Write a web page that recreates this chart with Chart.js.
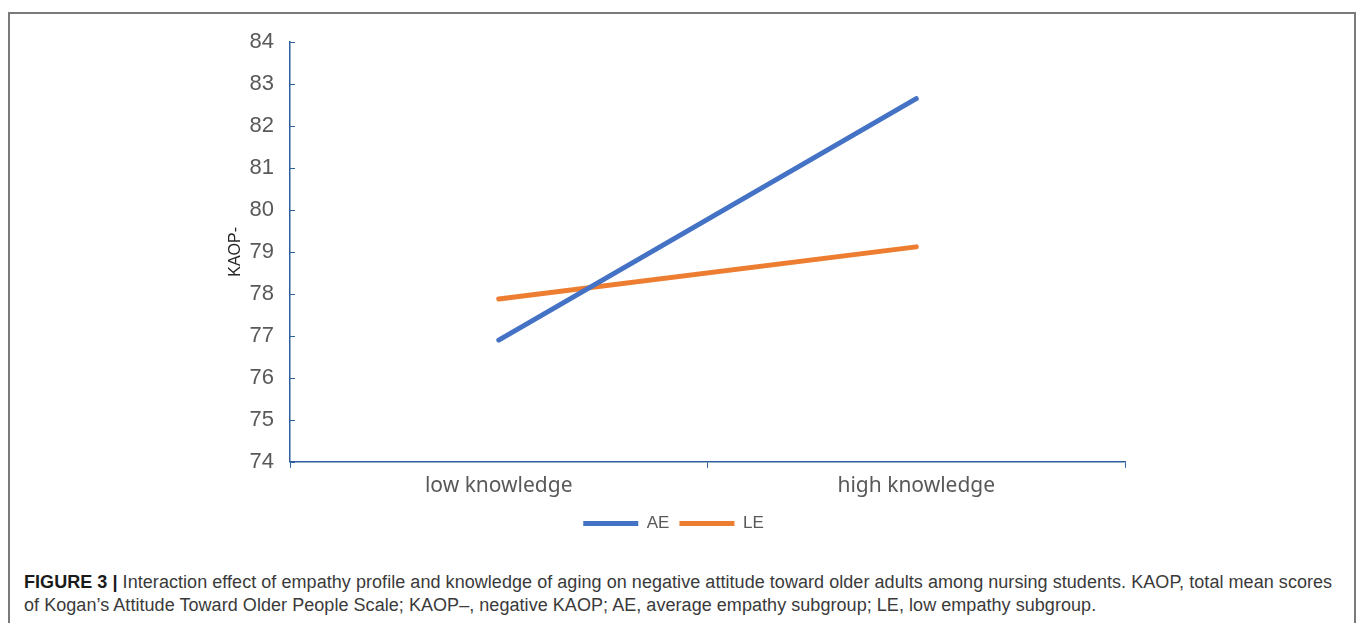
<!DOCTYPE html>
<html>
<head>
<meta charset="utf-8">
<script src="https://cdn.jsdelivr.net/npm/chart.js@4"></script>
<style>
  html, body { margin: 0; padding: 0; background: #fff; }
  body { width: 1358px; height: 623px; position: relative; overflow: hidden; }
  #frame {
    position: absolute; left: 8px; top: 12px; width: 1344px; height: 640px;
    border: 2px solid #7a7a7a; border-bottom: none;
  }
  #wrap { position: absolute; left: 0; top: 0; width: 1358px; height: 550px; }
  #caption {
    position: absolute; left: 24px; top: 571px;
    font-family: "Liberation Sans", Arial, sans-serif;
    font-size: 18px; line-height: 23px; color: #3a3a3a; white-space: nowrap;
    letter-spacing: 0.05px;
  }
  #caption b { color: #1a1a1a; }
</style>
</head>
<body>
<div id="frame"></div>
<div id="wrap"><canvas id="kaopChart"></canvas></div>
<div id="caption">
  <div><b>FIGURE 3 |</b> Interaction effect of empathy profile and knowledge of aging on negative attitude toward older adults among nursing students. KAOP, total mean scores</div>
  <div>of Kogan’s Attitude Toward Older People Scale; KAOP–, negative KAOP; AE, average empathy subgroup; LE, low empathy subgroup.</div>
</div>
<script>
const categories = ["low knowledge", "high knowledge"];
const aeValues = [76.9, 82.65];
const leValues = [77.88, 79.12];
const yTicks = [74, 75, 76, 77, 78, 79, 80, 81, 82, 83, 84];

const axisBlue = "#2f5f9e";

// y ticks in the reference point inward, into the plot
const innerTicks = {
    id: "innerTicks",
    afterDraw(chart) {
        const y = chart.scales.y;
        const ctx = chart.ctx;
        ctx.save();
        ctx.strokeStyle = axisBlue;
        ctx.lineWidth = 1;
        yTicks.forEach(v => {
            const py = Math.round(y.getPixelForValue(v)) + 0.5;
            ctx.beginPath();
            ctx.moveTo(y.right, py);
            ctx.lineTo(y.right + 5, py);
            ctx.stroke();
        });
        ctx.restore();
    }
};

const App = {
    chart: null,

    init() {
        const ctx = document.getElementById("kaopChart");

        this.chart = new Chart(ctx, {
            type: "line",
            data: {
                labels: categories,
                datasets: [{
                    label: "AE",
                    data: aeValues,
                    borderColor: "#4472c4",
                    backgroundColor: "#4472c4",
                    borderWidth: 5,
                    borderCapStyle: "round",
                    pointRadius: 0,
                    fill: false
                }, {
                    label: "LE",
                    data: leValues,
                    borderColor: "#ed7d31",
                    backgroundColor: "#ed7d31",
                    borderWidth: 5,
                    borderCapStyle: "round",
                    pointRadius: 0,
                    fill: false
                }]
            },
            options: {
                responsive: true,
                maintainAspectRatio: false,
                animation: false,
                layout: { padding: { left: 222, right: 233, top: 42, bottom: 8 } },
                plugins: {
                    tooltip: { enabled: false },
                    legend: {
                        position: "bottom",
                        labels: {
                            usePointStyle: true,
                            pointStyle: "line",
                            pointStyleWidth: 55,
                            boxHeight: 17,
                            padding: 10,
                            color: "#595959",
                            font: { family: "Liberation Sans", size: 17 }
                        }
                    }
                },
                scales: {
                    x: {
                        offset: true,
                        grid: {
                            offset: true,
                            drawOnChartArea: false,
                            tickLength: 6,
                            tickColor: axisBlue
                        },
                        border: { color: axisBlue, width: 1.5 },
                        ticks: {
                            color: "#595959",
                            padding: 6,
                            font: { family: "Noto Sans", size: 21 }
                        }
                    },
                    y: {
                        min: 74,
                        max: 84,
                        afterFit(scale) { scale.width = 68; },
                        afterBuildTicks(scale) {
                            scale.ticks = yTicks.map(v => ({ value: v }));
                        },
                        grid: { drawOnChartArea: false, drawTicks: false },
                        border: { color: axisBlue, width: 1.5 },
                        title: {
                            display: true,
                            text: "KAOP-",
                            color: "#262626",
                            padding: { top: 4, bottom: 0 },
                            font: { family: "Liberation Sans", size: 16 }
                        },
                        ticks: {
                            color: "#595959",
                            padding: 16,
                            font: { family: "Liberation Sans", size: 22 }
                        }
                    }
                }
            },
            plugins: [innerTicks]
        });
    }
};

window.onload = () => App.init();
</script>
</body>
</html>
